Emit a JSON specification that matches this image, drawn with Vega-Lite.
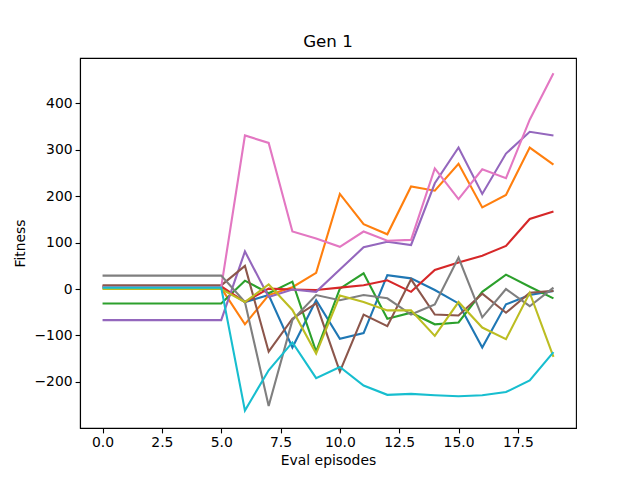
{
  "$schema": "https://vega.github.io/schema/vega-lite/v6.json",
  "autosize": {"type": "none"},
  "width": 496,
  "height": 370,
  "padding": {"left": 80, "top": 58, "right": 64, "bottom": 52},
  "background": "white",
  "view": {"stroke": "black", "strokeWidth": 1.1},
  "title": {"text": "Gen 1", "fontSize": 16.7, "fontWeight": "normal", "font": "DejaVu Sans", "color": "black", "offset": 7},
  "config": {
    "axis": {
      "labelFont": "DejaVu Sans", "titleFont": "DejaVu Sans",
      "labelFontSize": 13.9, "titleFontSize": 13.9,
      "labelColor": "black", "titleColor": "black",
      "titleFontWeight": "normal",
      "domainColor": "black", "domainWidth": 1.1,
      "tickColor": "black", "tickWidth": 1.1, "tickSize": 4.9,
      "labelPadding": 3, "grid": false
    }
  },
  "data": {"values": [
    {"run":0,"x":0,"v":4},{"run":0,"x":1,"v":4},{"run":0,"x":2,"v":4},{"run":0,"x":3,"v":4},{"run":0,"x":4,"v":4},{"run":0,"x":5,"v":4},{"run":0,"x":6,"v":-28},{"run":0,"x":7,"v":-13},{"run":0,"x":8,"v":-126},{"run":0,"x":9,"v":-24},{"run":0,"x":10,"v":-107},{"run":0,"x":11,"v":-95},{"run":0,"x":12,"v":30},{"run":0,"x":13,"v":23},{"run":0,"x":14,"v":-2},{"run":0,"x":15,"v":-31},{"run":0,"x":16,"v":-126},{"run":0,"x":17,"v":-33},{"run":0,"x":18,"v":-13},{"run":0,"x":19,"v":-4},
    {"run":1,"x":0,"v":2},{"run":1,"x":1,"v":2},{"run":1,"x":2,"v":2},{"run":1,"x":3,"v":2},{"run":1,"x":4,"v":2},{"run":1,"x":5,"v":2},{"run":1,"x":6,"v":-76},{"run":1,"x":7,"v":-13},{"run":1,"x":8,"v":4},{"run":1,"x":9,"v":35},{"run":1,"x":10,"v":205},{"run":1,"x":11,"v":140},{"run":1,"x":12,"v":118},{"run":1,"x":13,"v":221},{"run":1,"x":14,"v":212},{"run":1,"x":15,"v":270},{"run":1,"x":16,"v":176},{"run":1,"x":17,"v":203},{"run":1,"x":18,"v":305},{"run":1,"x":19,"v":268},
    {"run":2,"x":0,"v":-31},{"run":2,"x":1,"v":-31},{"run":2,"x":2,"v":-31},{"run":2,"x":3,"v":-31},{"run":2,"x":4,"v":-31},{"run":2,"x":5,"v":-31},{"run":2,"x":6,"v":18},{"run":2,"x":7,"v":-9},{"run":2,"x":8,"v":16},{"run":2,"x":9,"v":-135},{"run":2,"x":10,"v":1},{"run":2,"x":11,"v":34},{"run":2,"x":12,"v":-64},{"run":2,"x":13,"v":-51},{"run":2,"x":14,"v":-76},{"run":2,"x":15,"v":-72},{"run":2,"x":16,"v":-6},{"run":2,"x":17,"v":31},{"run":2,"x":18,"v":5},{"run":2,"x":19,"v":-20},
    {"run":3,"x":0,"v":6},{"run":3,"x":1,"v":6},{"run":3,"x":2,"v":6},{"run":3,"x":3,"v":6},{"run":3,"x":4,"v":6},{"run":3,"x":5,"v":6},{"run":3,"x":6,"v":-28},{"run":3,"x":7,"v":1},{"run":3,"x":8,"v":-1},{"run":3,"x":9,"v":-2},{"run":3,"x":10,"v":3},{"run":3,"x":11,"v":8},{"run":3,"x":12,"v":19},{"run":3,"x":13,"v":-6},{"run":3,"x":14,"v":41},{"run":3,"x":15,"v":57},{"run":3,"x":16,"v":72},{"run":3,"x":17,"v":93},{"run":3,"x":18,"v":151},{"run":3,"x":19,"v":167},
    {"run":4,"x":0,"v":-67},{"run":4,"x":1,"v":-67},{"run":4,"x":2,"v":-67},{"run":4,"x":3,"v":-67},{"run":4,"x":4,"v":-67},{"run":4,"x":5,"v":-67},{"run":4,"x":6,"v":81},{"run":4,"x":7,"v":-17},{"run":4,"x":8,"v":-1},{"run":4,"x":9,"v":-6},{"run":4,"x":10,"v":42},{"run":4,"x":11,"v":90},{"run":4,"x":12,"v":102},{"run":4,"x":13,"v":95},{"run":4,"x":14,"v":228},{"run":4,"x":15,"v":305},{"run":4,"x":16,"v":205},{"run":4,"x":17,"v":292},{"run":4,"x":18,"v":339},{"run":4,"x":19,"v":331},
    {"run":5,"x":0,"v":8},{"run":5,"x":1,"v":8},{"run":5,"x":2,"v":8},{"run":5,"x":3,"v":8},{"run":5,"x":4,"v":8},{"run":5,"x":5,"v":8},{"run":5,"x":6,"v":50},{"run":5,"x":7,"v":-135},{"run":5,"x":8,"v":-64},{"run":5,"x":9,"v":-31},{"run":5,"x":10,"v":-178},{"run":5,"x":11,"v":-55},{"run":5,"x":12,"v":-80},{"run":5,"x":13,"v":21},{"run":5,"x":14,"v":-55},{"run":5,"x":15,"v":-57},{"run":5,"x":16,"v":-10},{"run":5,"x":17,"v":-51},{"run":5,"x":18,"v":-8},{"run":5,"x":19,"v":-4},
    {"run":6,"x":0,"v":4},{"run":6,"x":1,"v":4},{"run":6,"x":2,"v":4},{"run":6,"x":3,"v":4},{"run":6,"x":4,"v":4},{"run":6,"x":5,"v":4},{"run":6,"x":6,"v":331},{"run":6,"x":7,"v":315},{"run":6,"x":8,"v":124},{"run":6,"x":9,"v":109},{"run":6,"x":10,"v":91},{"run":6,"x":11,"v":124},{"run":6,"x":12,"v":104},{"run":6,"x":13,"v":106},{"run":6,"x":14,"v":260},{"run":6,"x":15,"v":194},{"run":6,"x":16,"v":258},{"run":6,"x":17,"v":239},{"run":6,"x":18,"v":365},{"run":6,"x":19,"v":465},
    {"run":7,"x":0,"v":29},{"run":7,"x":1,"v":29},{"run":7,"x":2,"v":29},{"run":7,"x":3,"v":29},{"run":7,"x":4,"v":29},{"run":7,"x":5,"v":29},{"run":7,"x":6,"v":-28},{"run":7,"x":7,"v":-252},{"run":7,"x":8,"v":-67},{"run":7,"x":9,"v":-13},{"run":7,"x":10,"v":-24},{"run":7,"x":11,"v":-13},{"run":7,"x":12,"v":-20},{"run":7,"x":13,"v":-55},{"run":7,"x":14,"v":-33},{"run":7,"x":15,"v":68},{"run":7,"x":16,"v":-61},{"run":7,"x":17,"v":0},{"run":7,"x":18,"v":-37},{"run":7,"x":19,"v":3},
    {"run":8,"x":0,"v":0},{"run":8,"x":1,"v":0},{"run":8,"x":2,"v":0},{"run":8,"x":3,"v":0},{"run":8,"x":4,"v":0},{"run":8,"x":5,"v":0},{"run":8,"x":6,"v":-28},{"run":8,"x":7,"v":10},{"run":8,"x":8,"v":-45},{"run":8,"x":9,"v":-139},{"run":8,"x":10,"v":-14},{"run":8,"x":11,"v":-28},{"run":8,"x":12,"v":-46},{"run":8,"x":13,"v":-46},{"run":8,"x":14,"v":-101},{"run":8,"x":15,"v":-28},{"run":8,"x":16,"v":-83},{"run":8,"x":17,"v":-108},{"run":8,"x":18,"v":-8},{"run":8,"x":19,"v":-146},
    {"run":9,"x":0,"v":3},{"run":9,"x":1,"v":3},{"run":9,"x":2,"v":3},{"run":9,"x":3,"v":3},{"run":9,"x":4,"v":3},{"run":9,"x":5,"v":3},{"run":9,"x":6,"v":-262},{"run":9,"x":7,"v":-175},{"run":9,"x":8,"v":-115},{"run":9,"x":9,"v":-192},{"run":9,"x":10,"v":-168},{"run":9,"x":11,"v":-208},{"run":9,"x":12,"v":-228},{"run":9,"x":13,"v":-226},{"run":9,"x":14,"v":-229},{"run":9,"x":15,"v":-231},{"run":9,"x":16,"v":-229},{"run":9,"x":17,"v":-222},{"run":9,"x":18,"v":-197},{"run":9,"x":19,"v":-136}
  ]},
  "mark": {"type": "line", "strokeWidth": 2.1, "clip": true},
  "encoding": {
    "x": {
      "field": "x", "type": "quantitative", "title": "Eval episodes",
      "scale": {"domain": [-0.95, 19.95], "nice": false, "zero": false},
      "axis": {"values": [0, 2.5, 5, 7.5, 10, 12.5, 15, 17.5], "format": ".1f", "titlePadding": 4}
    },
    "y": {
      "field": "v", "type": "quantitative", "title": "Fitness",
      "scale": {"domain": [-299.5, 498], "nice": false, "zero": false},
      "axis": {"values": [-200, -100, 0, 100, 200, 300, 400], "titlePadding": 6}
    },
    "color": {
      "field": "run", "type": "nominal", "legend": null,
      "scale": {
        "domain": [0, 1, 2, 3, 4, 5, 6, 7, 8, 9],
        "range": ["#1f77b4", "#ff7f0e", "#2ca02c", "#d62728", "#9467bd", "#8c564b", "#e377c2", "#7f7f7f", "#bcbd22", "#17becf"]
      }
    },
    "order": {"field": "x", "type": "quantitative"}
  }
}
